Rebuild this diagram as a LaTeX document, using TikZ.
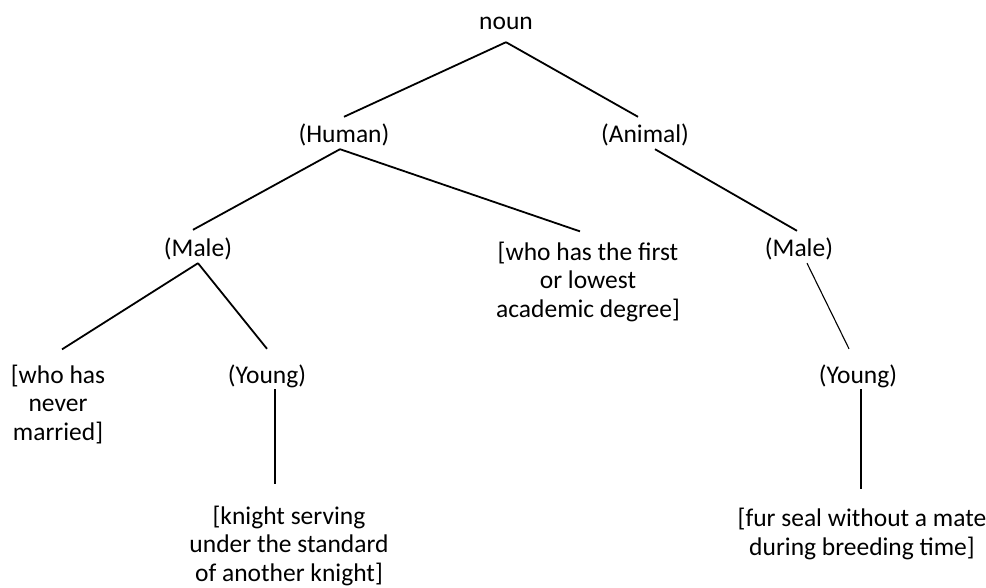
\documentclass[tikz,border=0pt]{standalone}
\usepackage{fontspec}
\setmainfont{Carlito}
\begin{document}
\begin{tikzpicture}[x=1pt, y=-1pt,
  word/.style={font=\fontsize{25.5}{28.5}\selectfont, inner sep=0pt, anchor=base, text height=18pt, text depth=6pt},
  gloss/.style={font=\fontsize{25.5}{28.5}\selectfont, inner sep=0pt, anchor=base, align=center},
  branch/.style={line width=1.8pt},
  twig/.style={line width=1.1pt}]
\useasboundingbox (0,0) rectangle (986,588);

% top
\node[word] (noun) at (506,30) {noun};
\node[word] (human) at (344,143) {(Human)};
\node[word] (animal) at (645,143) {(Animal)};

% second row (glosses sit on their last line)
\node[word] (maleL) at (198,257) {(Male)};
\node[gloss] (degree) at (588,317) {[who has the first\\or lowest\\academic degree]};
\node[word] (maleR) at (799,257) {(Male)};

% third row
\node[gloss] (single) at (58,440) {[who has\\never\\married]};
\node[word] (youngL) at (267,383) {(Young)};
\node[word] (youngR) at (858,383) {(Young)};

% leaves
\node[gloss] (knight) at (289,581) {[knight serving\\under the standard\\of another knight]};
\node[gloss] (seal) at (862,555) {[fur seal without a mate\\during breeding time]};

\draw[branch] ([yshift=-6pt]noun.south) -- ([yshift=8pt]human.north);
\draw[branch] ([yshift=-6pt]noun.south) -- ([xshift=-7pt,yshift=8pt]animal.north);
\draw[branch] ([xshift=-4pt]human.south) -- ([xshift=-5pt,yshift=9pt]maleL.north);
\draw[branch] ([xshift=-4pt]human.south) -- ([xshift=-8pt,yshift=10pt]degree.north);
\draw[branch] ([xshift=10pt]animal.south) -- ([xshift=-2pt,yshift=8pt]maleR.north);
\draw[branch] (maleL.south) -- ([xshift=4pt,yshift=15pt]single.north);
\draw[branch] (maleL.south) -- ([yshift=16pt]youngL.north);
\draw[branch] ([xshift=8pt]youngL.south) -- ([xshift=-14pt,yshift=21pt]knight.north);
\draw[twig] ([xshift=8pt]maleR.south) -- ([xshift=-9pt,yshift=16pt]youngR.north);
\draw[branch] ([xshift=3pt]youngR.south) -- ([xshift=-1pt,yshift=19pt]seal.north);
\end{tikzpicture}
\end{document}
